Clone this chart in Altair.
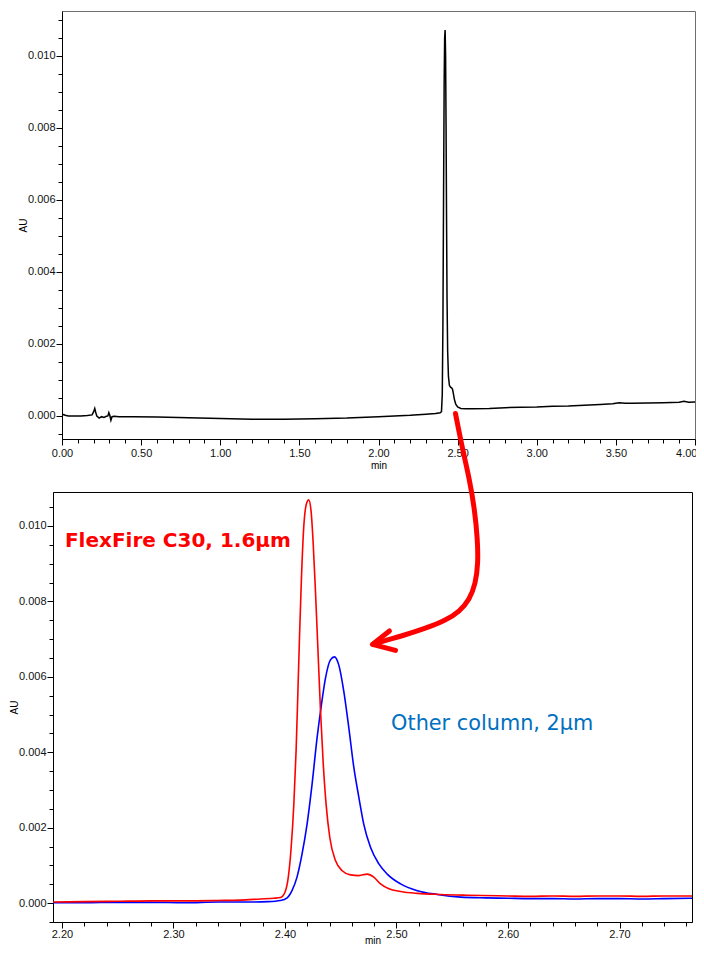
import altair as alt
import pandas as pd

# ---------------- data ----------------
# overview chromatogram (black)
top_t = [0.00, 0.01, 0.02, 0.04, 0.08, 0.12, 0.16, 0.19, 0.20, 0.207,
         0.213, 0.22, 0.235, 0.25, 0.265, 0.28, 0.29, 0.296, 0.302, 0.309,
         0.316, 0.33, 0.36, 0.45, 0.60, 0.80, 1.00, 1.20, 1.40, 1.60,
         1.80, 2.00, 2.20, 2.30, 2.36, 2.39, 2.398, 2.403, 2.407, 2.411,
         2.415, 2.418, 2.421, 2.424, 2.427, 2.430, 2.433, 2.437, 2.442, 2.448,
         2.455, 2.462, 2.468, 2.474, 2.480, 2.488, 2.50, 2.52, 2.55, 2.60,
         2.70, 2.80, 2.90, 3.00, 3.10, 3.20, 3.30, 3.40, 3.48, 3.52,
         3.56, 3.60, 3.70, 3.80, 3.90, 3.93, 3.96, 4.00]
top_au = [0.00003, 0.00004, 0.00002, 0.00000, 0.00000, 0.00000, 0.00001, 0.00003, 0.00012, 0.00021,
          0.00010, 0.00000, -0.00006, -0.00002, -0.00004, -0.00001, 0.00000, 0.00009, 0.00002, -0.00012,
          -0.00002, -0.00001, -0.00002, -0.00002, -0.00003, -0.00005, -0.00007, -0.00009, -0.00009, -0.00008,
          -0.00006, -0.00002, 0.00002, 0.00005, 0.00007, 0.00009, 0.00012, 0.00060, 0.00250, 0.00600,
          0.00930, 0.01050, 0.01072, 0.01000, 0.00800, 0.00550, 0.00330, 0.00180, 0.00110, 0.00085,
          0.00080, 0.00078, 0.00074, 0.00060, 0.00045, 0.00033, 0.00025, 0.00021, 0.00020, 0.00020,
          0.00021, 0.00023, 0.00024, 0.00025, 0.00027, 0.00028, 0.00030, 0.00032, 0.00034, 0.00037,
          0.00035, 0.00035, 0.00036, 0.00037, 0.00038, 0.00041, 0.00038, 0.00039]

# zoomed view: FlexFire C30 (red)
red_t = [2.192, 2.22, 2.25, 2.28, 2.31, 2.34, 2.36, 2.378, 2.390, 2.396,
         2.400, 2.403, 2.4055, 2.408, 2.410, 2.4117, 2.4132, 2.4147, 2.4168, 2.4192,
         2.4213, 2.4234, 2.4252, 2.4273, 2.4294, 2.4318, 2.4342, 2.4369, 2.4402, 2.4453,
         2.4513, 2.4588, 2.4663, 2.4737, 2.4797, 2.4857, 2.4932, 2.5037, 2.5187, 2.5396,
         2.5636, 2.60, 2.62, 2.64, 2.66, 2.68, 2.70, 2.72, 2.74, 2.765]
red_au = [0.00003, 0.00004, 0.00005, 0.00006, 0.00006, 0.00007, 0.00008, 0.00011, 0.00013, 0.00015,
          0.00029, 0.00069, 0.00145, 0.00265, 0.00405, 0.00570, 0.00720, 0.00855, 0.00995, 0.01058,
          0.01069, 0.01040, 0.00960, 0.00830, 0.00684, 0.00515, 0.00376, 0.00262, 0.00174, 0.00113,
          0.00086, 0.00075, 0.00073, 0.00077, 0.00069, 0.00051, 0.00038, 0.00031, 0.00026, 0.00023,
          0.00021, 0.00019, 0.00018, 0.00019, 0.00018, 0.00019, 0.00019, 0.00018, 0.00019, 0.00019]

# zoomed view: other column (blue)
blue_t = [2.192, 2.22, 2.25, 2.28, 2.31, 2.34, 2.37, 2.385, 2.396, 2.402,
          2.4063, 2.4108, 2.4153, 2.4198, 2.4243, 2.4288, 2.4327, 2.4363, 2.4408, 2.4444,
          2.4483, 2.4528, 2.4573, 2.4618, 2.4663, 2.4707, 2.4767, 2.4842, 2.4917, 2.5037,
          2.5187, 2.5366, 2.5576, 2.58, 2.60, 2.62, 2.64, 2.66, 2.68, 2.70,
          2.72, 2.74, 2.765]
blue_au = [0.00001, 0.00001, 0.00002, 0.00002, 0.00001, 0.00003, 0.00003, 0.00004, 0.00007, 0.00014,
           0.00033, 0.00069, 0.00130, 0.00209, 0.00315, 0.00438, 0.00526, 0.00596, 0.00645, 0.00653,
           0.00631, 0.00561, 0.00464, 0.00359, 0.00280, 0.00209, 0.00148, 0.00104, 0.00077, 0.00051,
           0.00033, 0.00023, 0.00016, 0.00014, 0.00013, 0.00012, 0.00012, 0.00011, 0.00012, 0.00012,
           0.00011, 0.00012, 0.00013]

# curved annotation arrow (in zoomed-view data units)
arrow_t = [2.5529, 2.5592, 2.5655, 2.5700, 2.5727, 2.5732, 2.5709, 2.5655, 2.5565, 2.5440,
           2.5260, 2.5035, 2.4901, 2.4793]
arrow_au = [0.012982, 0.012032, 0.011240, 0.010449, 0.009657, 0.008997, 0.008470, 0.008047, 0.007731, 0.007493,
            0.007282, 0.007071, 0.006966, 0.006860]
head_t = [2.4937, 2.4784, 2.4991]
head_au = [0.007216, 0.006860, 0.006702]

labels_text = ["FlexFire C30, 1.6\u00b5m", "Other column, 2\u00b5m"]
labels_t = [2.2027, 2.4952]
labels_au = [0.009438, 0.004599]

# tick positions
top_x_ticks = [round(0.1 * i, 1) for i in range(41)]
top_y_ticks = [round(-0.0005 + 0.0005 * i, 4) for i in range(24)]
bot_x_ticks = [round(2.20 + 0.02 * i, 2) for i in range(29)]
bot_y_ticks = [round(-0.0005 + 0.0005 * i, 4) for i in range(23)]

FONT = "Liberation Sans Narrow, Liberation Sans, Arial, sans-serif"


def axis(values, test, fmt, title, **kw):
    return alt.Axis(
        values=values,
        labelExpr=f"({test}) ? format(datum.value, '{fmt}') : ''",
        tickSize={"condition": {"test": test, "value": 6}, "value": 4},
        tickColor="black", tickWidth=1,
        domainColor="black", domainWidth=1,
        labelColor="#111111", labelFont=FONT, labelFontSize=11,
        labelOverlap=False, labelBound=False, labelFlush=False,
        title=title, titleFont=FONT, titleFontSize=10, titleFontWeight="normal",
        titleColor="black", grid=False, **kw)


x_test_top = "abs(datum.value*2 - round(datum.value*2)) < 0.001"
x_test_bot = "abs(datum.value*10 - round(datum.value*10)) < 0.001"
y_test = "abs(datum.value*500 - round(datum.value*500)) < 0.001 && datum.value > -0.0001"
last_top = "datum.value > 3.99"

# ---------------- top overview chart ----------------
top_df = pd.DataFrame({"t": top_t, "au": top_au})
top = alt.Chart(top_df).mark_line(color="black", strokeWidth=1.5).encode(
    x=alt.X("t:Q", scale=alt.Scale(domain=[0, 4], nice=False, zero=False),
            axis=axis(top_x_ticks, x_test_top, ".2f", "min", labelPadding=2, titlePadding=2,
                      labelAlign={"condition": {"test": last_top, "value": "right"}, "value": "center"},
                      labelOffset={"condition": {"test": last_top, "value": 2}, "value": 0})),
    y=alt.Y("au:Q", scale=alt.Scale(domain=[-0.00064, 0.01125], nice=False, zero=False),
            axis=axis(top_y_ticks, y_test, ".3f", "AU", labelPadding=1, titlePadding=3,
                      minExtent=31, maxExtent=31)),
).properties(width=633, height=428, view=alt.ViewBackground(stroke="#6e6e6e", strokeWidth=1))

# invisible 8px spacer so the overview sits 8px right of the zoomed view
spacer = alt.Chart(pd.DataFrame({"z": [0]})).mark_rect(opacity=0).encode(
    x=alt.value(0), x2=alt.value(8), y=alt.value(0), y2=alt.value(1)
).properties(width=8, height=1, view=alt.ViewBackground(stroke="transparent"))

row1 = alt.hconcat(spacer, top, spacing=-45)

# ---------------- bottom zoomed chart ----------------
xs = alt.Scale(domain=[2.192, 2.765], nice=False, zero=False)
ys = alt.Scale(domain=[-0.0005, 0.0109], nice=False, zero=False)
x_enc = alt.X("t:Q", scale=xs, axis=axis(bot_x_ticks, x_test_bot, ".2f", "min",
                                         labelPadding=0, titlePadding=-4))
y_enc = alt.Y("au:Q", scale=ys, axis=axis(bot_y_ticks, y_test, ".3f", "AU", labelPadding=1,
                                          titlePadding=3, minExtent=31, maxExtent=31))

blue_line = alt.Chart(pd.DataFrame({"t": blue_t, "au": blue_au})).mark_line(
    color="#0000ff", strokeWidth=1.6, interpolate="monotone").encode(x=x_enc, y=y_enc)
red_line = alt.Chart(pd.DataFrame({"t": red_t, "au": red_au})).mark_line(
    color="#ff0000", strokeWidth=1.6, interpolate="monotone").encode(x=x_enc, y=y_enc)

arrow_df = pd.DataFrame({"t": arrow_t, "au": arrow_au, "i": list(range(len(arrow_t)))})
arrow = alt.Chart(arrow_df).mark_line(
    color="#ff0000", strokeWidth=5, interpolate="basis", strokeCap="round", strokeJoin="round"
).encode(x=x_enc, y=y_enc, order=alt.Order("i:Q"))
head_df = pd.DataFrame({"t": head_t, "au": head_au, "i": list(range(len(head_t)))})
head = alt.Chart(head_df).mark_line(
    color="#ff0000", strokeWidth=5, strokeCap="round", strokeJoin="round"
).encode(x=x_enc, y=y_enc, order=alt.Order("i:Q"))

lab_df = pd.DataFrame({"t": labels_t, "au": labels_au, "txt": labels_text})
lab1 = alt.Chart(lab_df.iloc[[0]]).mark_text(
    align="left", baseline="alphabetic", font="DejaVu Sans", fontSize=20, fontWeight="bold",
    color="#ff0000").encode(x=x_enc, y=y_enc, text="txt:N")
lab2 = alt.Chart(lab_df.iloc[[1]]).mark_text(
    align="left", baseline="alphabetic", font="DejaVu Sans", fontSize=20.8, fontWeight="normal",
    color="#0070c0").encode(x=x_enc, y=y_enc, text="txt:N")

bottom = alt.layer(blue_line, red_line, lab1, lab2, arrow, head).properties(
    width=639, height=430, view=alt.ViewBackground(stroke="black", strokeWidth=1))

chart = alt.vconcat(row1, bottom, spacing=-61).properties(
    autosize=alt.AutoSizeParams(type="none"),
    padding={"left": 45, "top": 3, "right": 643, "bottom": 937},
    background="white",
)

chart.save("out.html", embed_options={"renderer": "svg", "actions": False})
